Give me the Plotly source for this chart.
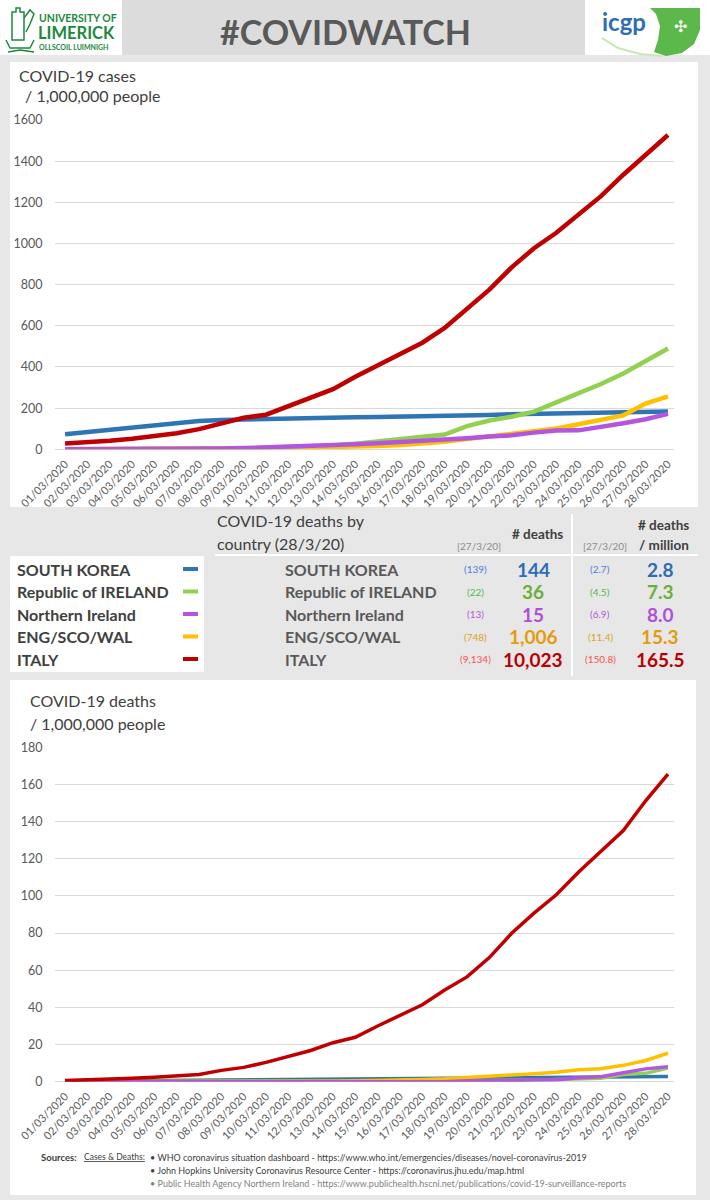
import plotly.graph_objects as go

W, H = 710, 1200
FONT = "Lato"

# ---------------- data ----------------
dates = ["01/03/2020", "02/03/2020", "03/03/2020", "04/03/2020", "05/03/2020", "06/03/2020", "07/03/2020",
         "08/03/2020", "09/03/2020", "10/03/2020", "11/03/2020", "12/03/2020", "13/03/2020", "14/03/2020",
         "15/03/2020", "16/03/2020", "17/03/2020", "18/03/2020", "19/03/2020", "20/03/2020", "21/03/2020",
         "22/03/2020", "23/03/2020", "24/03/2020", "25/03/2020", "26/03/2020", "27/03/2020", "28/03/2020"]

countries = ["SOUTH KOREA", "Republic of IRELAND", "Northern Ireland", "ENG/SCO/WAL", "ITALY"]
line_colors = ["#2e75b6", "#92d050", "#b455e0", "#ffc000", "#c00000"]

# cases per million
korea_cases = [73, 84, 98, 108, 118, 127, 137, 142, 145, 147, 150, 152, 154, 156, 157, 158, 161, 163, 165,
               167, 170, 172, 174, 176, 177, 179, 181, 184]
ireland_cases = [0.2, 0.2, 0.4, 1, 1.2, 3, 4, 4, 4, 7, 9, 14, 18, 27, 37, 48, 60, 72, 113, 140, 158, 183,
                 228, 270, 317, 368, 430, 490]
ni_cases = [0.5, 0.5, 0.5, 1, 2, 3, 3, 4, 6, 9, 11, 15, 18, 24, 29, 34, 39, 46, 54, 62, 68, 81, 91, 92,
            108, 127, 146, 172]
eng_cases = [0.5, 0.6, 0.8, 1.2, 1.6, 2.5, 3, 3.5, 4.5, 5, 7, 8, 10, 13, 16, 21, 28, 37, 50, 62, 73, 86,
             101, 122, 143, 165, 222, 257]
italy_cases = [28, 33, 41, 51, 64, 78, 98, 124, 153, 168, 208, 252, 292, 352, 409, 460, 518, 590, 680, 776,
               884, 977, 1052, 1140, 1230, 1334, 1432, 1527]

# deaths per million
korea_deaths = [0.3, 0.4, 0.5, 0.6, 0.7, 0.8, 0.9, 1.0, 1.0, 1.0, 1.2, 1.3, 1.3, 1.4, 1.5, 1.5, 1.6, 1.6,
                1.8, 1.8, 2.0, 2.0, 2.2, 2.3, 2.4, 2.5, 2.7, 2.8]
ireland_deaths = [0, 0, 0, 0, 0, 0, 0, 0, 0, 0, 0.2, 0.2, 0.2, 0.4, 0.4, 0.4, 0.4, 0.4, 0.6, 0.6, 0.6, 0.8,
                  1.2, 1.4, 1.8, 3.9, 4.5, 7.3]
ni_deaths = [0, 0, 0, 0, 0, 0, 0, 0, 0, 0, 0, 0, 0, 0, 0, 0, 0, 0, 0.5, 0.5, 0.5, 1.1, 1.1, 2.1, 2.7, 4.8,
             6.9, 8.0]
eng_deaths = [0, 0, 0, 0, 0.02, 0.03, 0.03, 0.05, 0.1, 0.1, 0.15, 0.15, 0.3, 0.5, 0.6, 0.9, 1.2, 1.6, 2.2,
              2.7, 3.5, 4.3, 5.1, 6.4, 7.0, 8.8, 11.4, 15.3]
italy_deaths = [0.6, 0.9, 1.3, 1.8, 2.4, 3.3, 3.9, 6.1, 7.7, 10.4, 13.7, 16.8, 21.0, 23.9, 30.0, 35.7, 41.4,
                49.3, 56.4, 66.8, 79.9, 90.7, 100.6, 112.9, 124.2, 135.2, 151.2, 165.5]

# table
deaths_prev = [139, 22, 13, 748, 9134]
deaths_now = [144, 36, 15, 1006, 10023]
per_million_prev = [2.7, 4.5, 6.9, 11.4, 150.8]
per_million_now = [2.8, 7.3, 8.0, 15.3, 165.5]
value_colors = ["#2e6db4", "#6aaf3c", "#b04fd8", "#e59b0c", "#b80000"]
bracket_colors = ["#4a7fe0", "#4dbb4d", "#b455e0", "#d9a520", "#ff5050"]

cases_by_country = [korea_cases, ireland_cases, ni_cases, eng_cases, italy_cases]
deaths_by_country = [korea_deaths, ireland_deaths, ni_deaths, eng_deaths, italy_deaths]
draw_order = [0, 1, 3, 2, 4]


def fx(x):
    return x / W


def fy(y):
    return 1 - y / H


def path(points, close=True):
    s = "M " + " L ".join(f"{fx(x):.5f},{fy(y):.5f}" for x, y in points)
    return s + (" Z" if close else "")


fig = go.Figure()

for i in draw_order:
    fig.add_trace(go.Scatter(x=dates, y=cases_by_country[i], mode="lines", name=countries[i],
                             line=dict(color=line_colors[i], width=4.5), xaxis="x", yaxis="y",
                             showlegend=False, hoverinfo="skip"))
for i in draw_order:
    fig.add_trace(go.Scatter(x=dates, y=deaths_by_country[i], mode="lines", name=countries[i],
                             line=dict(color=line_colors[i], width=3.5), xaxis="x2", yaxis="y2",
                             showlegend=False, hoverinfo="skip"))

shapes = []
ann = []


def rect(x0, y0, x1, y1, color):
    shapes.append(dict(type="rect", xref="paper", yref="paper", x0=fx(x0), x1=fx(x1), y0=fy(y1), y1=fy(y0),
                       fillcolor=color, line=dict(width=0), layer="below"))


# page panels
rect(122, 0, 585, 55, "#dcdcdc")
rect(0, 0, 122, 55, "white")
rect(585, 0, 710, 55, "white")
rect(10, 62, 698, 507, "white")
rect(10, 680, 696, 1195, "white")
rect(10, 556, 204, 672, "white")
# table lines
shapes.append(dict(type="line", xref="paper", yref="paper", x0=fx(215), x1=fx(698), y0=fy(555), y1=fy(555),
                   line=dict(color="white", width=2)))
shapes.append(dict(type="line", xref="paper", yref="paper", x0=fx(572), x1=fx(572), y0=fy(514), y1=fy(676),
                   line=dict(color="white", width=2)))

# logos (approximation)
green = "#1b8a3c"
shapes.append(dict(type="path", xref="paper", yref="paper",
                   path=path([(12, 12), (12, 40), (24, 40), (24, 12), (20, 12), (20, 8), (16, 8), (16, 12)]),
                   line=dict(color=green, width=1.5), fillcolor="rgba(0,0,0,0)"))
shapes.append(dict(type="path", xref="paper", yref="paper",
                   path=path([(6, 40), (10, 48), (30, 48), (34, 40)], close=False),
                   line=dict(color=green, width=1.5)))
shapes.append(dict(type="path", xref="paper", yref="paper",
                   path=path([(24, 18), (30, 10), (34, 14), (30, 24), (26, 32)], close=False),
                   line=dict(color=green, width=1.5)))
shapes.append(dict(type="path", xref="paper", yref="paper",
                   path=path([(8, 52), (20, 50), (34, 52)], close=False),
                   line=dict(color=green, width=1.5)))
ann.append(dict(text="<b>UNIVERSITY OF</b>", x=fx(37), y=fy(18), xanchor="left", yanchor="middle",
                font=dict(family=FONT, size=10.5, color=green)))
ann.append(dict(text="<b>LIMERICK</b>", x=fx(36), y=fy(33), xanchor="left", yanchor="middle",
                font=dict(family=FONT, size=16.5, color=green)))
ann.append(dict(text="<b>OLLSCOIL LUIMNIGH</b>", x=fx(37), y=fy(47), xanchor="left", yanchor="middle",
                font=dict(family=FONT, size=7, color=green)))

# ICGP logo
shapes.append(dict(type="path", xref="paper", yref="paper",
                   path=path([(650, 8), (700, 8), (700, 30), (694, 44), (682, 53), (666, 56), (654, 52),
                              (658, 40), (660, 26), (656, 14)]),
                   line=dict(width=0), fillcolor="#5cb84a"))
shapes.append(dict(type="path", xref="paper", yref="paper",
                   path=path([(602, 38), (618, 48), (640, 54), (662, 56)], close=False),
                   line=dict(color="#c8e6b8", width=2)))
ann.append(dict(text="<b>icgp</b>", x=fx(600), y=fy(22), xanchor="left", yanchor="middle",
                font=dict(family=FONT, size=24, color="#2f6db5")))
ann.append(dict(text="✣", x=fx(680), y=fy(26), xanchor="center", yanchor="middle",
                font=dict(family="DejaVu Sans", size=16, color="white")))

# header text
ann.append(dict(text="<b>#COVIDWATCH</b>", x=fx(345), y=fy(31), xanchor="center", yanchor="middle",
                font=dict(family=FONT, size=34, color="#595959")))

# chart titles
title_font = dict(family=FONT, size=16, color="#404040")
ann.append(dict(text="COVID-19 cases", x=fx(17), y=fy(75), xanchor="left", yanchor="middle", font=title_font))
ann.append(dict(text=" / 1,000,000 people", x=fx(19), y=fy(96), xanchor="left", yanchor="middle",
                font=title_font))
ann.append(dict(text="COVID-19 deaths", x=fx(28), y=fy(700), xanchor="left", yanchor="middle",
                font=title_font))
ann.append(dict(text="/ 1,000,000 people", x=fx(28), y=fy(723), xanchor="left", yanchor="middle",
                font=title_font))

# table header
ann.append(dict(text="COVID-19 deaths by", x=fx(215), y=fy(521), xanchor="left", yanchor="middle",
                font=title_font))
ann.append(dict(text="country (28/3/20)", x=fx(215), y=fy(543), xanchor="left", yanchor="middle",
                font=title_font))
ann.append(dict(text="[27/3/20]", x=fx(503), y=fy(546), xanchor="right", yanchor="middle",
                font=dict(family=FONT, size=10, color="#8c8c8c")))
ann.append(dict(text="<b># deaths</b>", x=fx(537), y=fy(534), xanchor="center", yanchor="middle",
                font=dict(family=FONT, size=13.5, color="#404040")))
ann.append(dict(text="[27/3/20]", x=fx(629), y=fy(546), xanchor="right", yanchor="middle",
                font=dict(family=FONT, size=10, color="#8c8c8c")))
ann.append(dict(text="<b># deaths</b>", x=fx(691), y=fy(525), xanchor="right", yanchor="middle",
                font=dict(family=FONT, size=13.5, color="#404040")))
ann.append(dict(text="<b>/ million</b>", x=fx(691), y=fy(545), xanchor="right", yanchor="middle",
                font=dict(family=FONT, size=13.5, color="#404040")))

row_y = [569, 591.5, 614, 636.5, 659]
for i, name in enumerate(countries):
    yy = fy(row_y[i])
    ann.append(dict(text=f"<b>{name}</b>", x=fx(15), y=yy, xanchor="left", yanchor="middle",
                    font=dict(family=FONT, size=16, color="#404040")))
    shapes.append(dict(type="line", xref="paper", yref="paper", x0=fx(183), x1=fx(198), y0=yy, y1=yy,
                       line=dict(color=line_colors[i], width=4)))
    ann.append(dict(text=f"<b>{name}</b>", x=fx(283), y=yy, xanchor="left", yanchor="middle",
                    font=dict(family=FONT, size=16, color="#595959")))
    ann.append(dict(text=f"({deaths_prev[i]:,})", x=fx(475), y=yy, xanchor="center", yanchor="middle",
                    font=dict(family=FONT, size=10, color=bracket_colors[i])))
    ann.append(dict(text=f"<b>{deaths_now[i]:,}</b>", x=fx(533), y=yy, xanchor="center", yanchor="middle",
                    font=dict(family=FONT, size=19, color=value_colors[i])))
    ann.append(dict(text=f"({per_million_prev[i]:.1f})", x=fx(600), y=yy, xanchor="center",
                    yanchor="middle", font=dict(family=FONT, size=10, color=bracket_colors[i])))
    ann.append(dict(text=f"<b>{per_million_now[i]:.1f}</b>", x=fx(660), y=yy, xanchor="center",
                    yanchor="middle", font=dict(family=FONT, size=19, color=value_colors[i])))

# sources
ann.append(dict(text="<b>Sources:</b>", x=fx(39), y=fy(1157), xanchor="left", yanchor="middle",
                font=dict(family=FONT, size=9.5, color="#404040")))
ann.append(dict(text="<u>Cases &amp; Deaths:</u>", x=fx(82), y=fy(1157), xanchor="left", yanchor="middle",
                font=dict(family=FONT, size=8.5, color="#404040")))
src_font = dict(family=FONT, size=9, color="#404040")
ann.append(dict(text="• WHO coronavirus situation dashboard - https://www.who.int/emergencies/diseases/novel-coronavirus-2019",
                x=fx(148), y=fy(1157), xanchor="left", yanchor="middle", font=src_font))
ann.append(dict(text="• John Hopkins University Coronavirus Resource Center - https://coronavirus.jhu.edu/map.html",
                x=fx(148), y=fy(1170), xanchor="left", yanchor="middle", font=src_font))
ann.append(dict(text="• Public Health Agency Northern Ireland - https://www.publichealth.hscni.net/publications/covid-19-surveillance-reports",
                x=fx(148), y=fy(1183), xanchor="left", yanchor="middle",
                font=dict(family=FONT, size=9, color="#7f7f7f")))

for a in ann:
    a.update(xref="paper", yref="paper", showarrow=False)

xr = [-0.45, 27.27]
xaxis_common = dict(type="category", range=xr, tickangle=-45, showgrid=False, zeroline=False, showline=False,
                    ticks="outside", ticklen=3, tickcolor="rgba(0,0,0,0)", automargin=False,
                    tickfont=dict(family=FONT, size=11, color="#595959"), fixedrange=True)
yaxis_common = dict(showgrid=True, gridcolor="#d9d9d9", gridwidth=1, zeroline=True, zerolinecolor="#d9d9d9",
                    zerolinewidth=1, showline=False, ticks="outside", ticklen=9, tickcolor="rgba(0,0,0,0)",
                    automargin=False, tickfont=dict(family=FONT, size=12.5, color="#595959"),
                    fixedrange=True)

fig.update_layout(
    width=W, height=H, autosize=False,
    margin=dict(l=0, r=0, t=0, b=0, pad=0, autoexpand=False),
    paper_bgcolor="#e7e7e7", plot_bgcolor="rgba(0,0,0,0)",
    showlegend=False,
    xaxis=dict(domain=[fx(55), fx(674)], anchor="y", **xaxis_common),
    yaxis=dict(domain=[fy(449.3), fy(120)], anchor="x", range=[0, 1600], dtick=200, **yaxis_common),
    xaxis2=dict(domain=[fx(55), fx(674)], anchor="y2", **xaxis_common),
    yaxis2=dict(domain=[fy(1081.7), fy(747.3)], anchor="x2", range=[0, 180], dtick=20, **yaxis_common),
    shapes=shapes,
    annotations=ann,
)

fig.write_html("out.html")
